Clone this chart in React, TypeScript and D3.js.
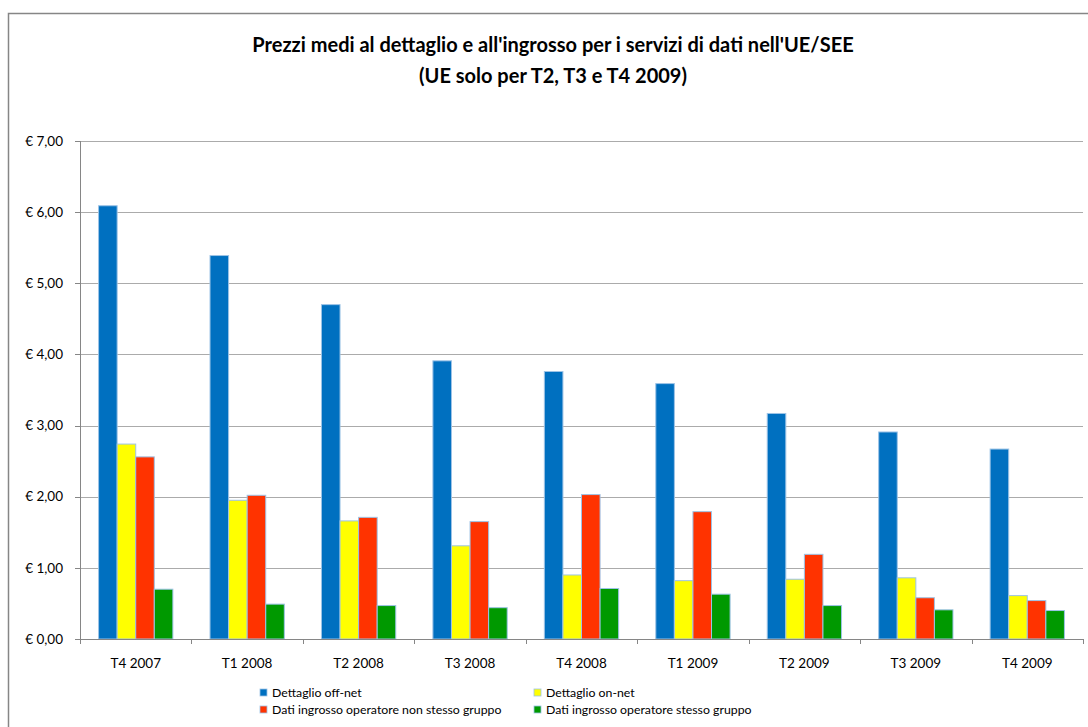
import React from "react";
import * as d3 from "d3";

const categories = ["T4 2007", "T1 2008", "T2 2008", "T3 2008", "T4 2008", "T1 2009", "T2 2009", "T3 2009", "T4 2009"];
const seriesNames = [
  "Dettaglio off-net",
  "Dettaglio on-net",
  "Dati ingrosso operatore non stesso gruppo",
  "Dati ingrosso operatore stesso gruppo",
];
const seriesColors = ["#0070C0", "#FFFF00", "#FF3300", "#009900"];
const dettaglioOffNet = [6.09, 5.39, 4.70, 3.91, 3.76, 3.59, 3.17, 2.91, 2.67];
const dettaglioOnNet = [2.74, 1.95, 1.66, 1.31, 0.9, 0.82, 0.84, 0.86, 0.61];
const ingrossoNonStesso = [2.56, 2.02, 1.71, 1.65, 2.03, 1.79, 1.19, 0.58, 0.54];
const ingrossoStesso = [0.7, 0.49, 0.47, 0.44, 0.71, 0.63, 0.47, 0.41, 0.4];
const yTicks = [0, 1, 2, 3, 4, 5, 6, 7];
const titleLines = ["Prezzi medi al dettaglio e all'ingrosso per i servizi di dati nell'UE/SEE", "(UE solo per T2, T3 e T4 2009)"];

const seriesValues = [dettaglioOffNet, dettaglioOnNet, ingrossoNonStesso, ingrossoStesso];

const W = 1088;
const H = 727;
const left = 80;
const right = 1083;
const top = 141;
const bottom = 639;
const font = "Lato, 'Open Sans', sans-serif";

export default function App() {
  const x = d3.scaleBand<string>().domain(categories).range([left, right]).padding(0);
  const bw = x.bandwidth();
  const xs = d3
    .scaleBand<number>()
    .domain(d3.range(seriesNames.length))
    .range([bw / 6, (bw * 5) / 6])
    .padding(0);
  const y = d3.scaleLinear().domain([0, 7]).range([bottom, top]);
  const fmt = (v: number) => "€ " + v.toFixed(2).replace(".", ",");

  const legendItems = [
    { i: 0, x: 260, y: 693 },
    { i: 1, x: 534, y: 693 },
    { i: 2, x: 260, y: 710 },
    { i: 3, x: 534, y: 710 },
  ];

  return (
    <svg
      width={W}
      height={H}
      style={{ position: "absolute", left: 0, top: 0, background: "#fff" }}
      fontFamily={font}
    >
      <rect x={0} y={0} width={W} height={H} fill="#fff" />
      <rect x={8.5} y={13.5} width={W + 20} height={H + 20} fill="none" stroke="#868686" strokeWidth={1.5} />
      {titleLines.map((t, i) => (
        <text
          key={i}
          x={553}
          y={52 + i * 31}
          textAnchor="middle"
          fontWeight="bold"
          fontSize={20}
          fill="#000"
        >
          {t}
        </text>
      ))}
      {yTicks.map((t) => (
        <g key={t}>
          {t > 0 && (
            <line x1={left} x2={right} y1={Math.round(y(t)) + 0.5} y2={Math.round(y(t)) + 0.5} stroke="#ababab" strokeWidth={1} />
          )}
          <line x1={left - 5} x2={left} y1={Math.round(y(t)) + 0.5} y2={Math.round(y(t)) + 0.5} stroke="#868686" />
          <text x={63} y={y(t)} dy="0.35em" textAnchor="end" fontSize={13.5} fill="#000">
            {fmt(t)}
          </text>
        </g>
      ))}
      {categories.map((c, ci) => (
        <g key={c}>
          {seriesValues.map((vals, si) => (
            <rect
              key={si}
              x={(x(c) as number) + (xs(si) as number)}
              y={y(vals[ci])}
              width={xs.bandwidth()}
              height={bottom - y(vals[ci])}
              fill={seriesColors[si]}
              stroke="#9DC3E6"
              strokeWidth={1}
            />
          ))}
          <text x={(x(c) as number) + bw / 2} y={663} dy="0.35em" textAnchor="middle" fontSize={13.5} fill="#000">
            {c}
          </text>
        </g>
      ))}
      <line x1={left + 0.5} x2={left + 0.5} y1={top} y2={bottom} stroke="#868686" />
      <line x1={left} x2={right} y1={bottom + 0.5} y2={bottom + 0.5} stroke="#868686" />
      {categories.map((c, ci) => (
        <line
          key={"t" + ci}
          x1={Math.round((x(c) as number) + bw) + 0.5}
          x2={Math.round((x(c) as number) + bw) + 0.5}
          y1={bottom}
          y2={bottom + 5}
          stroke="#868686"
        />
      ))}
      <line x1={left + 0.5} x2={left + 0.5} y1={bottom} y2={bottom + 5} stroke="#868686" />
      {legendItems.map((it) => (
        <g key={it.i}>
          <rect x={it.x} y={it.y - 4} width={7} height={7} fill={seriesColors[it.i]} stroke="#9DC3E6" strokeWidth={0.8} />
          <text x={it.x + 12} y={it.y} dy="0.35em" fontSize={12.3} fill="#000">
            {seriesNames[it.i]}
          </text>
        </g>
      ))}
    </svg>
  );
}
